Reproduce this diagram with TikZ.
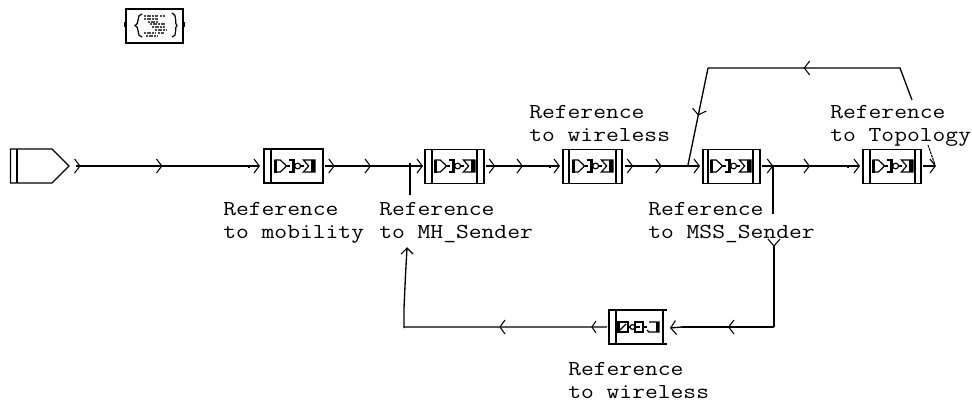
\documentclass[tikz,border=0pt]{standalone}
\usepackage{fontspec}
\newfontfamily\lblfont[FakeStretch=1.165]{Latin Modern Mono}
\usetikzlibrary{arrows.meta,decorations.markings,calc}
\tikzset{
  x=0.75pt,y=-0.75pt,
  blockbox/.style={draw,line width=1pt,minimum width=#1*0.75pt,minimum height=25.5pt,inner sep=0pt,outer sep=0pt},
  wire/.style={draw,line width=1pt},
  barb/.tip={Straight Barb[length=4pt,width=10.5pt,line width=0.8pt]},
  chev/.style={-barb},
  tipat/.style={postaction={decorate,decoration={markings,mark=at position #1 with {\arrow{barb}}}}},
  lbl/.style={inner sep=0pt,align=left,anchor=north west,font=\lblfont\fontsize{16}{17}\selectfont},
  glyph/.style={line width=0.9pt}
}
\newcommand{\gatesFwd}[1]{%
  \begin{scope}[shift={(#1)},glyph,xscale=1.05]
    \draw (-19,-6) -- (-14,-6) -- (-8,0) -- (-14,6) -- (-19,6) -- cycle;
    \fill (-20,-6.5) rectangle (-17.5,6.5);
    \draw (-8,0) -- (-5,0);
    \draw (-6,-6) -- (-1,-6) -- (-1,6) -- (-6,6);
    \fill (-3,-6) rectangle (-1,6);
    \draw (2.5,0) circle (2.8);
    \draw (5.5,0) -- (9,0);
    \draw (8,-6) -- (19,-6) -- (19,6) -- (8,6) -- (13,0) -- cycle;
    \fill (15,-6) rectangle (19,6);
  \end{scope}}
\newcommand{\gatesBack}[1]{%
  \begin{scope}[shift={(#1)},glyph]
    \draw (-20,-5) rectangle (-10,5); \draw (-20,5) -- (-12,-3);
    \fill (-20,-5) rectangle (-18.5,5);
    \draw (-10,0) -- (-8,0);
    \draw (-5.5,0) circle (2.4);
    \draw (-3,-5) rectangle (5,5);\draw (-3,0) -- (2,0);
    \draw (5,0) -- (9,0);
    \draw (11,-5) -- (21,-5) -- (21,5) -- (11,5) -- (9,3);
    \fill (18,-5) rectangle (21,5);
  \end{scope}}
\begin{document}
\begin{tikzpicture}
\useasboundingbox (0,0) rectangle (972,400);
\fill[white] (0,0) rectangle (972,400);
% source block
\draw[line width=1pt] (10.5,149) -- (52,149) -- (69,166) -- (52,183) -- (10.5,183) -- cycle;
\draw[line width=1pt] (17,149) -- (17,183);
% header block
\node[blockbox=57] (hdr) at (154.5,26) {};
\fill (124,22) rectangle (126,27); \fill (183,22) rectangle (185,27);
\draw[line width=0.9pt] (142,14) .. controls (136,14) and (140,25) .. (135,25.5) .. controls (140,26) and (136,37) .. (142,37);
\draw[line width=0.9pt] (172,13) .. controls (178,14) and (174,25) .. (177,25.5) .. controls (174,26) and (178,37) .. (172,37);
\foreach \a/\b/\c in {144/158/16,160/165/16,144/158/19,148/158/22,150/166/24,152/165/27,155/166/30,144/156/33,158/164/33,146/158/36}
  \draw[line width=0.8pt,dash pattern=on 1.5pt off 0.5pt,gray!60!black] (\a,\c) -- (\b,\c);
% blocks
\node[blockbox=59] (b1) at (293.5,166) {};
\draw[line width=1pt] (271,149) -- (271,183);
\gatesFwd{295,166}
\node[blockbox=59] (b2) at (454.5,166.5) {};
\draw[line width=1pt] (432,149) -- (432,184) (477,149) -- (477,184);
\gatesFwd{455,166}
\node[blockbox=59] (b3) at (592.5,166.5) {};
\draw[line width=1pt] (569,149) -- (569,184) (616,149) -- (616,184);
\gatesFwd{593,166}
\node[blockbox=57] (b4) at (731.5,166.5) {};
\draw[line width=1pt] (708,149) -- (708,184) (753,149) -- (753,184);
\gatesFwd{731,166}
\node[blockbox=58] (b5) at (892,166.5) {};
\draw[line width=1pt] (870,149) -- (870,184) (915,149) -- (915,184);
\gatesFwd{893,166}
% feedback block
\coordinate (b6) at (638,327);
\draw[line width=1pt] (667,310) -- (609,310) -- (609,344) -- (667,344);
\draw[line width=1pt] (616,310) -- (616,344) (663,310) -- (663,344);
\gatesBack{638,327}
% junctions
\coordinate (j1) at (773,166);
\coordinate (j2) at (410,172);
\coordinate (j3) at (688,165);
% main wires
\coordinate (w1a) at (76,166); \coordinate (w1e) at (260,166);
\coordinate (w2a) at (325,166); \coordinate (w2e) at (423,166);
\coordinate (w3a) at (486,166); \coordinate (w3e) at (560,166);
\coordinate (w4a) at (625,166); \coordinate (w4e) at (700,166);
\coordinate (w5a) at (762,166); \coordinate (w5e) at (860,166);
\draw[wire,tipat=0.025,tipat=0.47,-barb] (w1a) -- (w1e);
\draw[line width=1.6pt] (249,164.5) -- (249,167.5);
\draw[wire,tipat=0.10,tipat=0.47,-barb] (w2a) -- (w2e);
\draw[wire,tipat=0.125,tipat=0.50,-barb] (w3a) -- (w3e);
\draw[line width=1.6pt] (550,164.5) -- (550,167.5);
\draw[wire,tipat=0.11,tipat=0.49,-barb] (w4a) -- (w4e);
\draw[wire,tipat=0.115,tipat=0.49,-barb] (w5a) -- (w5e);
\draw[line width=1.6pt] (848,164.5) -- (848,167.5);
\coordinate (o1) at (923,166); \coordinate (out) at (936,166);
\draw[wire,chev] (o1) -- (out);
% top feedback
\coordinate (t0) at (912,100); \coordinate (t1) at (900,68); \coordinate (t2) at (708,68);
\coordinate (t4) at (928,145); \coordinate (t5) at (935,165);
\draw[wire,tipat=0.577] (t0) -- (t1) -- (t2);
\draw[wire,tipat=0.49] (t2) -- (j3);
\draw[line width=0.8pt,dash pattern=on 2pt off 0.6pt] (t4) -- (t5);
% down to feedback block
\coordinate (d1) at (773,214); \coordinate (d2) at (774,246); \coordinate (d3) at (774,327);
\coordinate (d4) at (682,327); \coordinate (d5) at (670,328);
\draw[wire] (j1) -- (d1);
\draw[wire] (d3) -- (d2);
\draw[line width=0.8pt] (768,239) -- (774,246) -- (780,239);
\draw[wire,tipat=0.50] (d3) -- (d4);
\draw[wire,chev] (d4) -- (d5);
% feedback to MH_Sender
\coordinate (e0) at (607,327); \coordinate (e1) at (404,328);
\coordinate (e2) at (404,308); \coordinate (e3) at (405.5,275); \coordinate (e4) at (407,248);
\draw[wire] (e0) -- (e1 |- e0) -- (e1) -- (e2) -- (e3) -- (e4);
\draw[line width=0.8pt] (596,321) -- (592,327) -- (596,333);
\draw[line width=0.8pt] (505,320) -- (500,327) -- (505,334);
\draw[line width=0.8pt] (401,254) -- (407,248) -- (413,254);
\draw[wire] (410,163) -- (j2) -- (410,195);
% labels
\node[lbl] (l1) at (223,202) {Reference\\to mobility};
\node[lbl] (l2) at (379,202) {Reference\\to MH\_Sender};
\node[lbl] (l3) at (529,105) {Reference\\to wireless};
\node[lbl] (l4) at (830,105) {Reference\\to Topology};
\node[lbl] (l5) at (648,202) {Reference\\to MSS\_Sender};
\node[lbl] (l6) at (568,362) {Reference\\to wireless};
\end{tikzpicture}
\end{document}
